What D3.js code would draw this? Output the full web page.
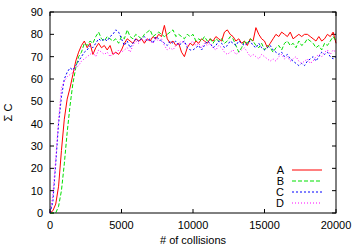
<!DOCTYPE html>
<meta charset="utf-8">
<script src="https://d3js.org/d3.v7.min.js"></script>
<style>
  body { margin: 0; background: #fff; }
  text { font-family: "Liberation Sans", Arial, sans-serif; font-size: 11px; fill: #000; }
</style>
<div id="my_dataviz"></div>
<script>
// collisions sampled every 200
var step = 200;
var seriesNames = ["A", "B", "C", "D"];
var seriesA = [0,1,4,12,28,42,51,56,62,68,72,75,77,74,76,71,74,76,74,75,73,75,71,72,71,73,76,78,77,76,78,77,78,76,78,77,79,78,80,79,84,78,76,77,75,76,72,70,74,76,75,77,76,78,77,76,78,77,79,78,77,81,82,80,79,77,78,76,77,75,78,77,83,80,78,77,74,76,78,80,79,81,80,79,81,78,79,80,79,80,80,79,78,77,79,77,78,80,79,81,76];
var seriesB = [0,0,0,3,10,22,36,48,58,65,70,72,76,75,77,76,79,81,78,77,79,78,77,78,76,79,78,82,79,78,80,79,78,80,81,82,79,80,81,80,79,80,81,82,79,80,79,78,80,79,80,77,78,77,79,77,78,76,78,77,78,76,77,79,78,75,72,74,77,76,78,77,75,74,76,73,75,74,72,74,75,73,76,77,75,76,74,77,75,76,78,77,76,74,75,73,76,75,77,79,77];
var seriesC = [0,5,22,40,52,60,63,65,64,66,68,70,72,73,75,74,76,78,77,78,77,79,80,82,81,78,75,77,74,76,78,77,78,79,77,78,76,79,78,77,76,75,77,76,77,75,76,77,74,73,73,74,75,73,75,77,76,74,75,77,76,74,75,77,76,75,77,76,75,76,77,75,74,76,74,73,74,75,73,72,71,72,70,71,69,68,67,66,67,66,68,69,70,68,70,72,71,72,70,69,70];
var seriesD = [0,8,24,42,56,59,61,62,63,65,66,68,69,70,71,72,70,73,72,71,72,70,72,71,73,72,73,74,72,75,77,76,78,77,78,77,76,78,77,78,75,73,74,73,75,76,77,76,75,76,77,75,76,74,76,75,76,74,73,75,74,72,71,72,73,71,72,73,74,72,70,71,70,69,71,70,69,68,69,68,70,71,69,70,68,69,70,68,67,68,69,67,68,70,71,70,72,73,71,73,72];
var xTicks = [0, 5000, 10000, 15000, 20000];
var yTicks = [0, 10, 20, 30, 40, 50, 60, 70, 80, 90];

var allSeries = [seriesA, seriesB, seriesC, seriesD];
var colors = ["#ff0000", "#00e000", "#0000ff", "#ff00ff"];
var dashes = [null, "4,2", "2,2", "1,2"];

var margin = {top: 12, right: 18, bottom: 34, left: 50},
  width = 354 - margin.left - margin.right,
  height = 247 - margin.top - margin.bottom;

var svg = d3.select("#my_dataviz")
  .append("svg")
    .attr("width", 354)
    .attr("height", 247)
  .append("g")
    .attr("transform", "translate(" + margin.left + "," + margin.top + ")");

var x = d3.scaleLinear().domain([0, 20000]).range([0, width]);
var y = d3.scaleLinear().domain([0, 90]).range([height, 0]);

// tick marks on all four sides, pointing inward
xTicks.forEach(function(t) {
  svg.append("line").attr("x1", x(t)).attr("x2", x(t)).attr("y1", height).attr("y2", height - 4).attr("stroke", "#000");
  svg.append("line").attr("x1", x(t)).attr("x2", x(t)).attr("y1", 0).attr("y2", 4).attr("stroke", "#000");
  svg.append("text").attr("x", x(t)).attr("y", height + 16).attr("text-anchor", "middle").text(t);
});
yTicks.forEach(function(t) {
  svg.append("line").attr("x1", 0).attr("x2", 4).attr("y1", y(t)).attr("y2", y(t)).attr("stroke", "#000");
  svg.append("line").attr("x1", width).attr("x2", width - 4).attr("y1", y(t)).attr("y2", y(t)).attr("stroke", "#000");
  svg.append("text").attr("x", -7).attr("y", y(t) + 4).attr("text-anchor", "end").text(t);
});

// lines
var line = d3.line()
  .x(function(d, i) { return x(i * step); })
  .y(function(d) { return y(d); });

allSeries.forEach(function(s, k) {
  svg.append("path")
    .datum(s)
    .attr("d", line)
    .attr("fill", "none")
    .attr("stroke", colors[k])
    .attr("stroke-width", 1)
    .attr("stroke-dasharray", dashes[k]);
});

// frame
svg.append("rect")
  .attr("width", width).attr("height", height)
  .attr("fill", "none").attr("stroke", "#000").attr("stroke-width", 1);

// legend
seriesNames.forEach(function(n, k) {
  var ly = 158 + k * 11;
  svg.append("text").attr("x", 234).attr("y", ly + 4).attr("text-anchor", "end").text(n);
  svg.append("line").attr("x1", 242).attr("x2", 272).attr("y1", ly).attr("y2", ly)
    .attr("stroke", colors[k]).attr("stroke-dasharray", dashes[k]);
});

// axis titles
svg.append("text")
  .attr("x", width / 2).attr("y", height + 31)
  .attr("text-anchor", "middle").text("# of collisions");
svg.append("text")
  .attr("transform", "translate(-38," + (height / 2) + ")rotate(-90)")
  .attr("text-anchor", "middle").text("Σ C");
</script>
